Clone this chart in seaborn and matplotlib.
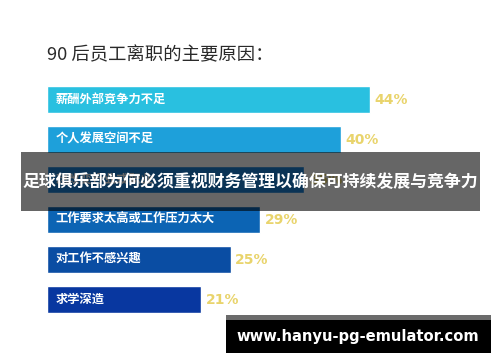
import matplotlib
matplotlib.use("Agg")
import matplotlib.pyplot as plt
from matplotlib.patches import Rectangle
import seaborn as sns

sns.set_style("white")
plt.rcParams['font.family'] = ['Noto Sans CJK SC', 'DejaVu Sans']

title = "90 后员工离职的主要原因："
reasons = ["薪酬外部竞争力不足", "个人发展空间不足", "想改变行业或职业",
           "工作要求太高或工作压力太大", "对工作不感兴趣", "求学深造"]
values = [44, 40, 35, 29, 25, 21]
value_labels = ["44%", "40%", "35%", "29%", "25%", "21%"]
bar_colors = ["#29C0E0", "#1EA0DA", "#1980D4", "#0C64B4", "#0A4DA3", "#0837A0"]
banner_text = "足球俱乐部为何必须重视财务管理以确保可持续发展与竞争力"
watermark = "www.hanyu-pg-emulator.com"

W, H = 500, 362
fig = plt.figure(figsize=(W / 100, H / 100), dpi=100)
fig.patch.set_facecolor("white")
ax = fig.add_axes([47 / W, 0, 1 - 47 / W, 1])

sns.barplot(x=values, y=reasons, hue=reasons, palette=bar_colors, legend=False,
            width=0.675, orient="h", ax=ax, saturation=1)

px_per_unit = 7.35
ax.set_xlim(0, (W - 47) / px_per_unit)
ax.set_ylim((H - 99.5) / 40, -99.5 / 40)
ax.axis("off")

for i, (v, lab, name) in enumerate(zip(values, value_labels, reasons)):
    ax.text(1.2, i, name, color="white", fontsize=8.8, fontweight="bold",
            va="center", ha="left")
    ax.text(v + 0.6, i, lab, color="#E9D46C", fontsize=10, fontweight="bold",
            va="center", ha="left", family=["DejaVu Sans"])

fig.text(47 / W, 1 - 55 / H, title, fontsize=13.2, color="#2a2a2a",
         va="center", ha="left", fontweight="light")

# banner overlay
fig.patches.append(Rectangle((21 / W, 1 - 211 / H), (480 - 21) / W, (211 - 152) / H,
                             transform=fig.transFigure, facecolor="black",
                             alpha=0.6, edgecolor="none", zorder=10))
fig.text(250 / W, 1 - 182 / H, banner_text, fontsize=12.2, color="white",
         fontweight="bold", va="center", ha="center", zorder=11)

# watermark
fig.patches.append(Rectangle((226 / W, 1 - 320 / H), (491 - 226) / W, 5 / H,
                             transform=fig.transFigure, facecolor="#6b6b6b",
                             edgecolor="none", zorder=10))
fig.patches.append(Rectangle((226 / W, 1 - 353 / H), (491 - 226) / W, 33 / H,
                             transform=fig.transFigure, facecolor="black",
                             edgecolor="none", zorder=10))
fig.text(358 / W, 1 - 336 / H, watermark, fontsize=10.6, color="white",
         fontweight="bold", va="center", ha="center", zorder=11,
         family=["DejaVu Sans"])

fig.savefig("out.png", dpi=100)
